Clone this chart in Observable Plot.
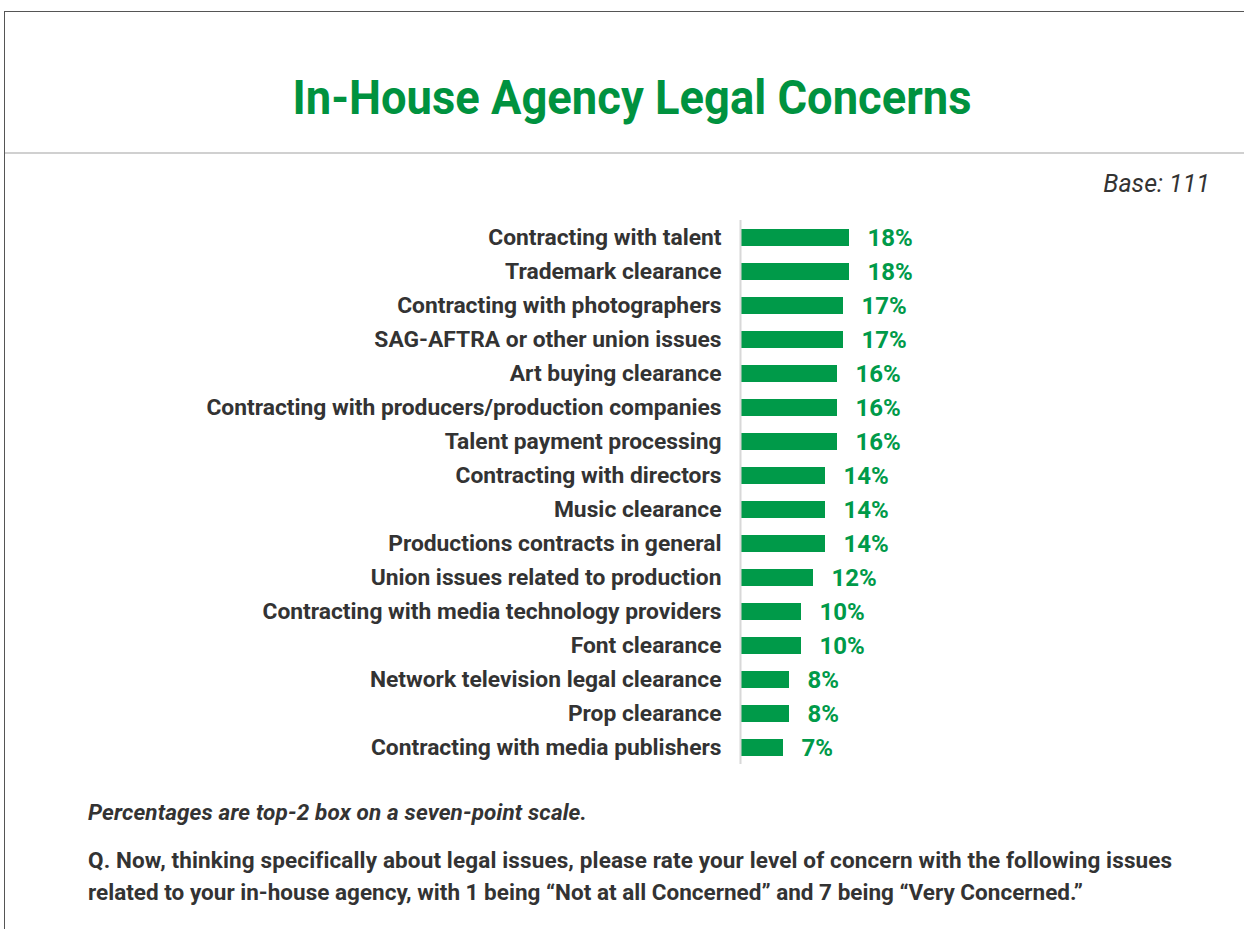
<!DOCTYPE html>
<html><head><meta charset="utf-8">
<script src="https://cdn.jsdelivr.net/npm/d3@7"></script>
<script src="https://cdn.jsdelivr.net/npm/@observablehq/plot@0.6"></script>
<style>
html,body{margin:0;padding:0;background:#fff;}
#page{position:relative;width:1244px;height:929px;overflow:hidden;font-family:Roboto,"Liberation Sans",sans-serif;}
#frame{position:absolute;left:4px;top:11px;width:1300px;height:1000px;border-left:1px solid #555;border-top:1px solid #555;}
#sep{position:absolute;left:5px;top:152px;width:1239px;height:2px;background:#d0d0d0;}
#title{position:absolute;left:632px;top:70px;white-space:nowrap;font-weight:bold;font-size:49px;line-height:56px;color:#00923f;transform-origin:center;}
#base{position:absolute;right:34px;top:169px;font-style:italic;font-size:25px;line-height:30px;color:#333;}
#note{position:absolute;left:88px;top:796px;font-style:italic;font-weight:bold;font-size:22.5px;line-height:32px;color:#333;white-space:nowrap;}
#q{position:absolute;left:88px;top:844px;font-weight:bold;font-size:22.5px;line-height:32px;color:#333;white-space:nowrap;}
#chart{position:absolute;left:0;top:200px;}
</style></head>
<body><div id="page">
<div id="frame"></div><div id="sep"></div>
<div id="title">In-House Agency Legal Concerns</div>
<div id="base">Base: 111</div>
<div id="chart"></div>
<div id="note">Percentages are top-2 box on a seven-point scale.</div>
<div id="q"><span class="ql">Q. Now, thinking specifically about legal issues, please rate your level of concern with the following issues</span><br><span class="ql">related to your in-house agency, with 1 being “Not at all Concerned” and 7 being “Very Concerned.”</span></div>
</div>
<script>
const categories = [
  "Contracting with talent",
  "Trademark clearance",
  "Contracting with photographers",
  "SAG-AFTRA or other union issues",
  "Art buying clearance",
  "Contracting with producers/production companies",
  "Talent payment processing",
  "Contracting with directors",
  "Music clearance",
  "Productions contracts in general",
  "Union issues related to production",
  "Contracting with media technology providers",
  "Font clearance",
  "Network television legal clearance",
  "Prop clearance",
  "Contracting with media publishers"
];
const values = [18, 18, 17, 17, 16, 16, 16, 14, 14, 14, 12, 10, 10, 8, 8, 7];
const data = categories.map((c, i) => ({category: c, value: values[i]}));
const green = "#009a49";

const chart = Plot.plot({
  width: 1244,
  height: 574,
  marginTop: 20,
  marginBottom: 10,
  marginLeft: 741,
  marginRight: 263,
  style: {color: "#333", fontFamily: "Roboto, 'Liberation Sans', sans-serif", background: "transparent"},
  x: {domain: [0, 40], axis: null},
  y: {domain: categories, paddingInner: 0.5, paddingOuter: 0.25, label: null},
  marks: [
    Plot.barX(data, {y: "category", x: "value", fill: green}),
    Plot.ruleX([0], {stroke: "#d8d8d8", strokeWidth: 2, dx: -1}),
    Plot.text(data, {y: "category", x: "value", text: d => d.value + "%", dx: 18, textAnchor: "start", fill: green, fontSize: 24, fontWeight: "bold"}),
    Plot.axisY({tickSize: 0, tickPadding: 20, fontSize: 22.8, fontWeight: "bold", label: null})
  ]
});
document.getElementById("chart").appendChild(chart);

// fit title width (condensed look) and centre it
const t = document.getElementById("title");
const tw = t.getBoundingClientRect().width;
t.style.left = (632 - tw / 2) + "px";
t.style.transform = `scaleX(${679 / tw})`;
// fit footer line widths
function fit(el, target) {
  const w = el.getBoundingClientRect().width;
  const n = el.textContent.length;
  el.style.letterSpacing = ((target - w) / n) + "px";
}
const ql = document.querySelectorAll(".ql");
fit(ql[0], 1084);
fit(ql[1], 995);
fit(document.getElementById("note"), 499);
</script>
</body></html>
